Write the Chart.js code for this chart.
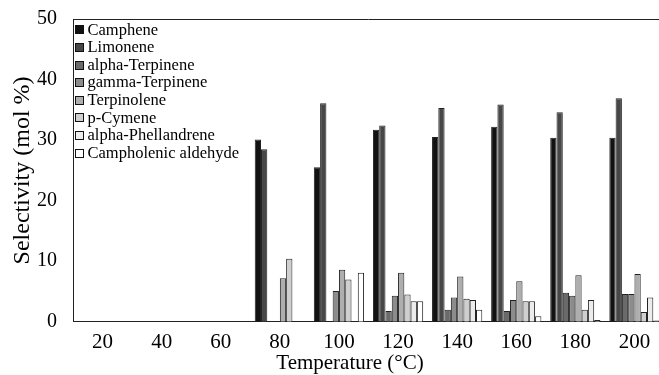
<!DOCTYPE html>
<html>
<head>
<meta charset="utf-8">
<script src="https://cdn.jsdelivr.net/npm/chart.js@4"></script>
<style>
  html, body { margin: 0; padding: 0; background: #fff; overflow: hidden; }
  #wrap { width: 664px; height: 375px; }
</style>
</head>
<body>
<div id="wrap"><canvas id="myChart" width="664" height="375"></canvas></div>
<script>
// temperatures (°C)
const temps = ['20', '40', '60', '80', '100', '120', '140', '160', '180', '200'];

// selectivity (mol %) per product
const camphene    = [0, 0, 0, 30.1, 25.5, 31.7, 30.5, 32.2, 30.4, 30.4];
const limonene    = [0, 0, 0, 28.5, 36.1, 32.4, 35.3, 35.9, 34.6, 36.9];
const alphaTerp   = [0, 0, 0, 0, 0, 1.8, 2.0, 1.8, 4.8, 4.6];
const gammaTerp   = [0, 0, 0, 0, 5.1, 4.3, 4.0, 3.6, 4.3, 4.6];
const terpinolene = [0, 0, 0, 7.2, 8.6, 8.1, 7.5, 6.7, 7.7, 7.9];
const pCymene     = [0, 0, 0, 10.4, 7.0, 4.5, 3.8, 3.4, 2.0, 1.6];
const alphaPhel   = [0, 0, 0, 0, 0, 3.4, 3.6, 3.4, 3.6, 4.0];
const campholenic = [0, 0, 0, 0, 8.1, 3.4, 2.0, 0.9, 0.3, 0.2];

const seriesNames = ['Camphene', 'Limonene', 'alpha-Terpinene', 'gamma-Terpinene',
  'Terpinolene', 'p-Cymene', 'alpha-Phellandrene', 'Campholenic aldehyde'];
const seriesData = [camphene, limonene, alphaTerp, gammaTerp, terpinolene, pCymene, alphaPhel, campholenic];
const fills = ['#121212', '#474747', '#6a6a6a', '#8c8c8c', '#aeaeae', '#cfcfcf', '#ececec', '#ffffff'];

const xTitle = 'Temperature (°C)';
const serif = "'Liberation Serif', 'Times New Roman', serif";

// legend drawn inside the plot (top-left), top frame line, x axis title
const boxLegend = {
  id: 'boxLegend',
  afterDraw(chart) {
    const c = chart.ctx;
    const a = chart.chartArea;
    c.save();
    c.strokeStyle = '#222';
    c.lineWidth = 1;
    c.beginPath();
    c.moveTo(a.left, a.top + 0.5);
    c.lineTo(a.right, a.top + 0.5);
    c.stroke();

    c.font = '16.5px ' + serif;
    c.textBaseline = 'middle';
    chart.data.datasets.forEach((ds, i) => {
      const y = a.top + 10.3 + i * 17.6;
      const x = a.left + 2.5;
      const by = Math.round(y - 4) + 0.5;
      c.fillStyle = ds.backgroundColor;
      c.fillRect(x, by, 8, 8);
      c.strokeStyle = '#111';
      c.strokeRect(x, by, 8, 8);
      c.fillStyle = '#000';
      c.fillText(ds.label, x + 12, y + 1);
    });

    // x title sits a bit left of the plot centre in the original
    c.font = '21px ' + serif;
    c.textAlign = 'center';
    c.fillText(xTitle, 350, 363);
    c.restore();
  }
};

const ctx = document.getElementById('myChart').getContext('2d');
new Chart(ctx, {
  type: 'bar',
  data: {
    labels: temps,
    datasets: seriesNames.map((name, i) => ({
      label: name,
      data: seriesData[i],
      backgroundColor: fills[i],
      borderColor: '#222',
      borderWidth: 1,
      barPercentage: 1,
      categoryPercentage: 0.85
    }))
  },
  options: {
    responsive: false,
    animation: false,
    layout: { padding: { top: 19, right: 0, left: 8, bottom: 12 } },
    scales: {
      x: {
        grid: { display: false, drawTicks: false },
        border: { color: '#222', width: 1 },
        ticks: { color: '#000', font: { family: serif, size: 21 }, padding: 8 }
      },
      y: {
        min: 0,
        max: 50,
        afterFit(scale) { scale.width = 65; scale.paddingTop = 0; },
        grid: { display: false, drawTicks: false },
        border: { color: '#222', width: 1 },
        ticks: { stepSize: 10, color: '#000', font: { family: serif, size: 20 }, padding: 16 },
        title: { display: true, text: 'Selectivity (mol %)', color: '#000',
                 font: { family: serif, size: 24 }, padding: { top: 0, bottom: 0 } }
      }
    },
    plugins: {
      legend: { display: false },
      tooltip: { enabled: false }
    }
  },
  plugins: [boxLegend]
});
</script>
</body>
</html>
